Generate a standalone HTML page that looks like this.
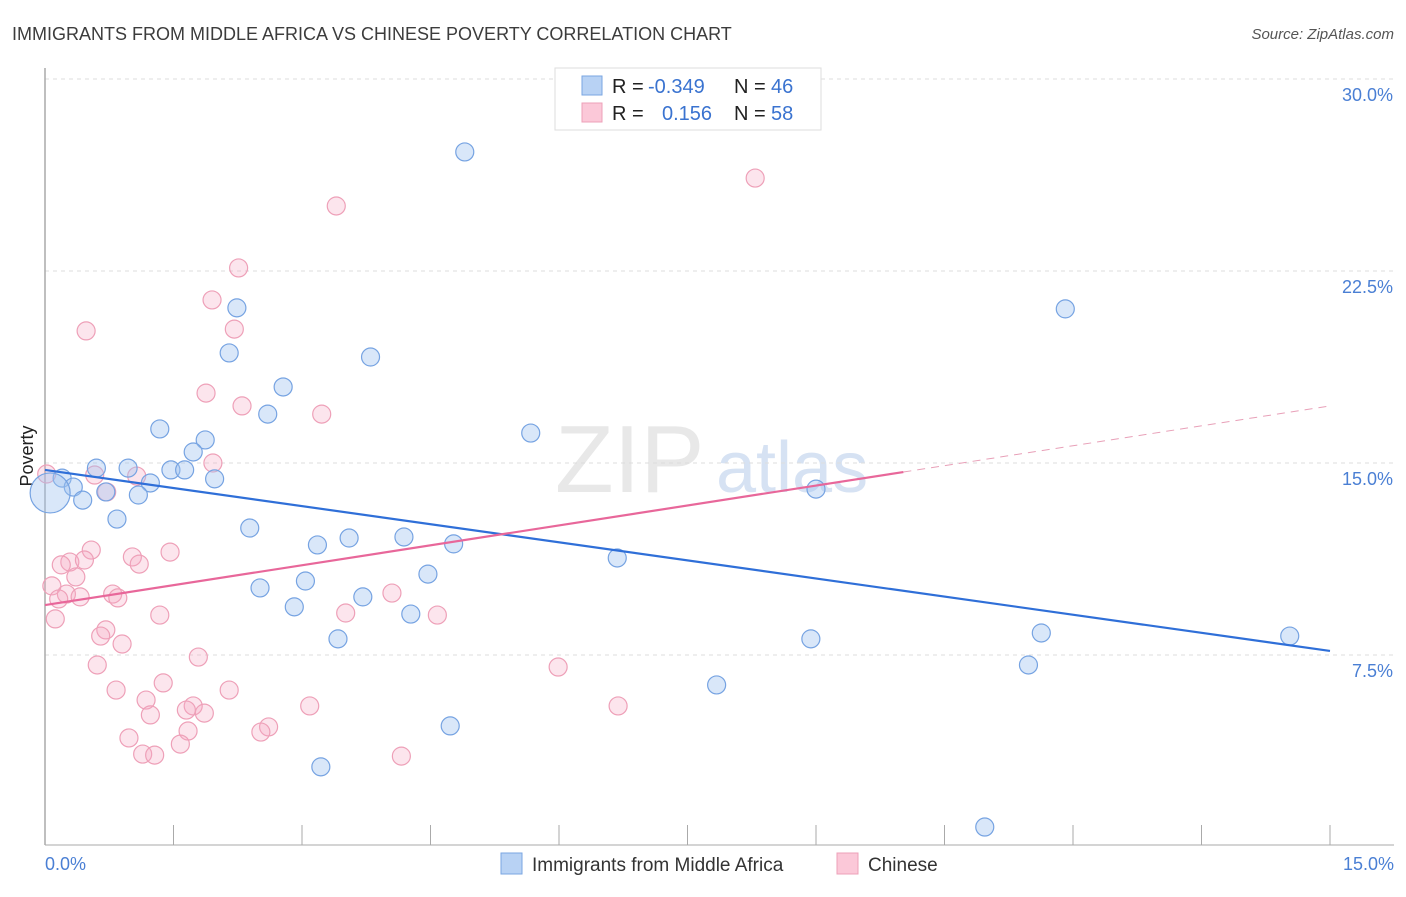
<!DOCTYPE html>
<html><head><meta charset="utf-8"><style>
body{margin:0;background:#fff;font-family:"Liberation Sans",sans-serif;}
svg text{font-family:"Liberation Sans",sans-serif;}
</style></head><body>
<svg width="1406" height="892" xmlns="http://www.w3.org/2000/svg">
<text x="12" y="40" font-size="18" fill="#3c3c3c">IMMIGRANTS FROM MIDDLE AFRICA VS CHINESE POVERTY CORRELATION CHART</text>
<text x="1394" y="39" font-size="15" fill="#555" font-style="italic" text-anchor="end">Source: ZipAtlas.com</text>
<text x="555" y="492" font-size="96" fill="#e8e8e8" font-family="Liberation Serif">ZIP</text>
<text x="716" y="492" font-size="72" fill="#d6e2f3">atlas</text>
<g id="grid"></g>
<line x1="45" y1="68" x2="45" y2="845" stroke="#aaa" stroke-width="1.5"/>
<line x1="45" y1="845" x2="1394" y2="845" stroke="#aaa" stroke-width="1"/>
<g id="ticks"></g>
<text x="33" y="456" font-size="18" fill="#222" transform="rotate(-90 33 456)" text-anchor="middle">Poverty</text>
<g id="pts"></g>
<g id="lines"></g>
<text x="45" y="870" font-size="18" fill="#4a7fd4">0.0%</text>
<text x="1394" y="870" font-size="18" fill="#4a7fd4" text-anchor="end">15.0%</text>
<g>
<rect x="555" y="68" width="266" height="62" fill="#fff" stroke="#ddd"/>
<rect x="582" y="76" width="20" height="19" fill="#b8d2f4" stroke="#7aa6e2"/>
<rect x="582" y="103" width="20" height="19" fill="#fbc8d8" stroke="#eea0b8"/>
<text x="612" y="93" font-size="20" fill="#222">R = </text><text x="648" y="93" font-size="20" fill="#3a73d0">-0.349</text>
<text x="734" y="93" font-size="20" fill="#222">N = </text><text x="771" y="93" font-size="20" fill="#3a73d0">46</text>
<text x="612" y="120" font-size="20" fill="#222">R = </text><text x="662" y="120" font-size="20" fill="#3a73d0">0.156</text>
<text x="734" y="120" font-size="20" fill="#222">N = </text><text x="771" y="120" font-size="20" fill="#3a73d0">58</text>
</g>
<g>
<rect x="501" y="853" width="21" height="21" fill="#b8d2f4" stroke="#7aa6e2"/>
<text x="532" y="871" font-size="19" fill="#333">Immigrants from Middle Africa</text>
<rect x="837" y="853" width="21" height="21" fill="#fbc8d8" stroke="#eea0b8"/>
<text x="868" y="871" font-size="19" fill="#333">Chinese</text>
</g>
</svg>
<script>
const NS="http://www.w3.org/2000/svg";
const yTicks=[7.5,15,22.5,30];
const yTickLabels=["7.5%","15.0%","22.5%","30.0%"];
const xTicks=[0,1.5,3,4.5,6,7.5,9,10.5,12,13.5,15];
const blueX=[4.90,2.24,11.91,2.15,3.80,2.78,2.60,1.34,5.67,1.87,1.73,0.60,0.97,1.47,1.63,0.20,1.98,1.23,0.33,0.71,1.09,0.44,0.06,0.84,2.39,9.00,4.19,3.55,3.18,4.77,6.68,4.47,3.04,2.51,3.71,2.91,4.27,3.42,8.94,11.63,14.53,11.48,7.84,4.73,3.22,10.97];
const blueY=[27.15,21.06,21.02,19.30,19.14,17.97,16.91,16.33,16.17,15.90,15.43,14.80,14.80,14.73,14.73,14.41,14.38,14.22,14.06,13.87,13.75,13.55,13.83,12.81,12.46,13.98,12.11,12.07,11.80,11.84,11.29,10.66,10.39,10.12,9.77,9.38,9.10,8.13,8.13,8.36,8.24,7.11,6.33,4.73,3.13,0.78];
const blueR=[9,9,9,9,9,9,9,9,9,9,9,9,9,9,9,9,9,9,9,9,9,9,20,9,9,9,9,9,9,9,9,9,9,9,9,9,9,9,9,9,9,9,9,9,9,9];
const pinkX=[8.29,3.40,2.26,1.95,0.48,2.21,1.88,2.30,3.23,1.96,0.02,0.58,1.07,0.72,0.54,1.46,1.02,0.29,0.46,1.10,0.19,0.36,0.08,0.79,0.25,0.41,0.85,0.16,4.05,3.51,1.34,4.58,0.12,0.71,0.65,0.90,1.79,0.61,5.99,1.38,0.83,2.15,1.18,3.09,6.69,1.73,1.65,1.86,1.23,1.67,2.61,2.52,0.98,1.58,1.14,1.28,4.16];
const pinkY=[26.13,25.04,22.62,21.37,20.16,20.23,17.73,17.23,16.91,15.00,14.57,14.53,14.49,13.87,11.60,11.52,11.33,11.13,11.21,11.05,11.02,10.55,10.20,9.88,9.88,9.77,9.73,9.69,9.92,9.14,9.06,9.06,8.91,8.48,8.24,7.93,7.42,7.11,7.03,6.41,6.13,6.13,5.74,5.51,5.51,5.51,5.35,5.23,5.16,4.53,4.69,4.49,4.26,4.02,3.63,3.59,3.55];
const blueTrend=[14.73,7.66];
const pinkTrend=[9.45,17.23];
const pinkSolidEnd=10.02;
const X=v=>45+v*(1285/15);
const Y=v=>847-v*25.6;
function mk(t,a,p){const e=document.createElementNS(NS,t);for(const k in a)e.setAttribute(k,a[k]);p.appendChild(e);return e;}
const grid=document.getElementById('grid');
yTicks.forEach((t,i)=>{
 const l=mk('line',{x1:45,x2:1394,y1:Y(t),y2:Y(t),stroke:'#ddd','stroke-dasharray':'4,4'},grid);
 
 
 const tx=mk('text',{x:1393,y:Y(t)+22,'font-size':18,fill:'#4a7fd4','text-anchor':'end'},grid);
 tx.textContent=yTickLabels[i];
 
 
});
const ticks=document.getElementById('ticks');
xTicks.forEach(t=>{
 const l=mk('line',{x1:X(t),x2:X(t),y1:825,y2:845,stroke:'#aaa'},ticks);
 
 
});
const pts=document.getElementById('pts');
pinkX.forEach((x,i)=>{
 const c=mk('circle',{cx:X(x),cy:Y(pinkY[i]),r:9,fill:'rgba(246,170,196,0.3)',stroke:'#eea0b8','stroke-width':1.2},pts);
 
 
});
blueX.forEach((x,i)=>{
 const c=mk('circle',{cx:X(x),cy:Y(blueY[i]),r:blueR[i],fill:'rgba(160,196,240,0.4)',stroke:'#76a3e2','stroke-width':1.2},pts);
 
 
});
const lines=document.getElementById('lines');
const bl=mk('line',{x1:X(0),y1:Y(blueTrend[0]),x2:X(15),y2:Y(blueTrend[1]),stroke:'#2f6fd8','stroke-width':2.2},lines);


const pAt=x=>pinkTrend[0]+(pinkTrend[1]-pinkTrend[0])*x/15;
const pl=mk('line',{x1:X(0),y1:Y(pAt(0)),x2:X(pinkSolidEnd),y2:Y(pAt(pinkSolidEnd)),stroke:'#e8679a','stroke-width':2.2},lines);


const pd=mk('line',{x1:X(pinkSolidEnd),y1:Y(pAt(pinkSolidEnd)),x2:X(15),y2:Y(pAt(15)),stroke:'#e8a0b8','stroke-width':1,'stroke-dasharray':'8,6'},lines);


</script>
</body></html>
